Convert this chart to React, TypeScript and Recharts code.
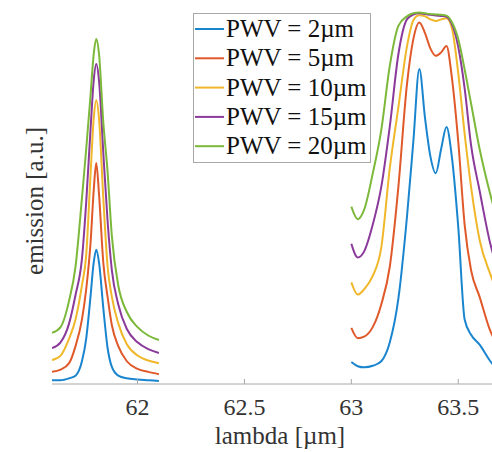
import { LineChart, Line, XAxis, YAxis } from 'recharts';

// wavelength samples (µm) for the two windows that were measured
const lambdaLeft = [61.6, 61.64, 61.68, 61.71, 61.74, 61.76, 61.78, 61.795, 61.807, 61.82, 61.84, 61.86, 61.88, 61.91, 61.95, 62.0, 62.05, 62.1];
const lambdaRight = [63.0, 63.03, 63.06, 63.1, 63.14, 63.18, 63.22, 63.26, 63.29, 63.318, 63.345, 63.37, 63.395, 63.42, 63.445, 63.47, 63.5, 63.53, 63.56, 63.6, 63.65, 63.7];

// emission, arbitrary units
const pwv2Left = [0.01, 0.01, 0.015, 0.022, 0.06, 0.12, 0.23, 0.32, 0.354, 0.32, 0.2, 0.095, 0.045, 0.022, 0.015, 0.012, 0.01, 0.008];
const pwv5Left = [0.032, 0.038, 0.055, 0.1, 0.17, 0.25, 0.37, 0.51, 0.583, 0.5, 0.32, 0.23, 0.155, 0.1, 0.06, 0.04, 0.032, 0.026];
const pwv10Left = [0.063, 0.075, 0.12, 0.17, 0.26, 0.34, 0.55, 0.7, 0.749, 0.7, 0.49, 0.31, 0.23, 0.16, 0.105, 0.075, 0.062, 0.055];
const pwv15Left = [0.095, 0.11, 0.16, 0.235, 0.33, 0.48, 0.67, 0.8, 0.844, 0.8, 0.61, 0.43, 0.3, 0.21, 0.145, 0.11, 0.092, 0.082];
const pwv20Left = [0.135, 0.15, 0.22, 0.31, 0.49, 0.62, 0.76, 0.87, 0.91, 0.87, 0.69, 0.56, 0.39, 0.26, 0.19, 0.15, 0.128, 0.116];

const pwv2Right = [0.058, 0.047, 0.044, 0.048, 0.06, 0.11, 0.225, 0.44, 0.64, 0.831, 0.7, 0.6, 0.556, 0.62, 0.678, 0.6, 0.415, 0.17, 0.13, 0.104, 0.06, 0.03];
const pwv5Right = [0.148, 0.121, 0.125, 0.15, 0.21, 0.31, 0.52, 0.79, 0.91, 0.954, 0.925, 0.885, 0.866, 0.875, 0.892, 0.81, 0.64, 0.42, 0.3, 0.23, 0.14, 0.09];
const pwv10Right = [0.268, 0.236, 0.25, 0.285, 0.36, 0.57, 0.73, 0.89, 0.96, 0.973, 0.97, 0.962, 0.958, 0.962, 0.965, 0.94, 0.82, 0.66, 0.52, 0.38, 0.29, 0.22];
const pwv15Right = [0.37, 0.334, 0.35, 0.42, 0.52, 0.68, 0.87, 0.962, 0.975, 0.978, 0.976, 0.974, 0.972, 0.971, 0.969, 0.95, 0.89, 0.78, 0.63, 0.51, 0.37, 0.28];
const pwv20Right = [0.468, 0.435, 0.46, 0.555, 0.67, 0.84, 0.945, 0.97, 0.978, 0.98, 0.978, 0.976, 0.975, 0.974, 0.972, 0.955, 0.91, 0.83, 0.74, 0.62, 0.5, 0.4];

const seriesKeys = ['pwv2', 'pwv5', 'pwv10', 'pwv15', 'pwv20'];
const seriesLabels = ['PWV = 2µm', 'PWV = 5µm', 'PWV = 10µm', 'PWV = 15µm', 'PWV = 20µm'];
const seriesColors = ['#1a85cf', '#e0592a', '#f0b72a', '#8a3a9a', '#7cb83a'];
const xTicks = [62, 62.5, 63, 63.5];

const leftSets = [pwv2Left, pwv5Left, pwv10Left, pwv15Left, pwv20Left];
const rightSets = [pwv2Right, pwv5Right, pwv10Right, pwv15Right, pwv20Right];

const makeRows = (lambdas: number[], sets: number[][]) =>
  lambdas.map((l, i) => {
    const row: any = { lambda: l };
    seriesKeys.forEach((k, s) => { row[k] = sets[s][i]; });
    return row;
  });

// a null row in the gap so the two windows are not joined
const gapRow: any = { lambda: 62.55 };
seriesKeys.forEach(k => { gapRow[k] = null; });

const chartData = [...makeRows(lambdaLeft, leftSets), gapRow, ...makeRows(lambdaRight, rightSets)];

const SERIF = '"Liberation Serif", "Times New Roman", serif';
const AXIS = '#a8a8a8';
const TEXT = '#333';

const BottomTick = ({ x, y, payload }: any) => (
  <g>
    <line x1={x} x2={x} y1={y} y2={y - 5} stroke={AXIS} />
    <text x={x} y={y + 31} textAnchor="middle" fontSize={24} fill={TEXT} fontFamily={SERIF}>
      {payload.value}
    </text>
  </g>
);

const TopTick = ({ x, y }: any) => <line x1={x} x2={x} y1={y} y2={y + 5} stroke={AXIS} />;

// both axis titles, drawn from the bottom axis label slot
const AxisTitles = () => (
  <g>
    <text x={280} y={444} textAnchor="middle" fontSize={25} fill={TEXT} fontFamily={SERIF}>
      lambda [µm]
    </text>
    <text x={43} y={201} transform="rotate(-90, 43, 201)" textAnchor="middle" fontSize={25} fill={TEXT} fontFamily={SERIF}>
      emission [a.u.]
    </text>
  </g>
);

export default function App() {
  return (
    <div style={{ position: 'absolute', left: 0, top: 0, width: 492, height: 452, overflow: 'hidden', background: '#fff' }}>
      <LineChart width={512} height={452} data={chartData} margin={{ top: 5, right: 11, left: 52, bottom: 0 }}>
        <XAxis
          xAxisId="top"
          orientation="top"
          type="number"
          dataKey="lambda"
          domain={[61.6, 63.7]}
          ticks={xTicks}
          interval={0}
          height={0}
          tickSize={0}
          tickMargin={0}
          tickLine={false}
          axisLine={{ stroke: AXIS }}
          tick={TopTick}
          allowDataOverflow
        />
        <XAxis
          type="number"
          dataKey="lambda"
          domain={[61.6, 63.7]}
          ticks={xTicks}
          interval={0}
          height={68}
          tickSize={0}
          tickMargin={0}
          tickLine={false}
          axisLine={{ stroke: AXIS }}
          tick={BottomTick}
          allowDataOverflow
          label={{ content: AxisTitles }}
        />
        <YAxis
          type="number"
          domain={[0, 1]}
          width={0}
          tick={false}
          tickLine={false}
          axisLine={{ stroke: AXIS }}
          allowDataOverflow
        />
        {seriesKeys.map((k, i) => (
          <Line
            key={k}
            type="monotone"
            dataKey={k}
            name={seriesLabels[i]}
            stroke={seriesColors[i]}
            strokeWidth={2}
            dot={false}
            connectNulls={false}
            isAnimationActive={false}
          />
        ))}
      </LineChart>
      <div style={{ position: 'absolute', left: 193, top: 13, width: 178, height: 150, border: `1px solid ${AXIS}`, background: '#fff', boxSizing: 'border-box' }}>
        <svg width={176} height={148}>
          {seriesLabels.map((lab, i) => {
            const cy = 15 + i * 29.3;
            return (
              <g key={lab}>
                <line x1={1} x2={30} y1={cy} y2={cy} stroke={seriesColors[i]} strokeWidth={2} />
                <text x={32} y={cy + 8} fontSize={25} fill="#111" fontFamily={SERIF}>{lab}</text>
              </g>
            );
          })}
        </svg>
      </div>
    </div>
  );
}
